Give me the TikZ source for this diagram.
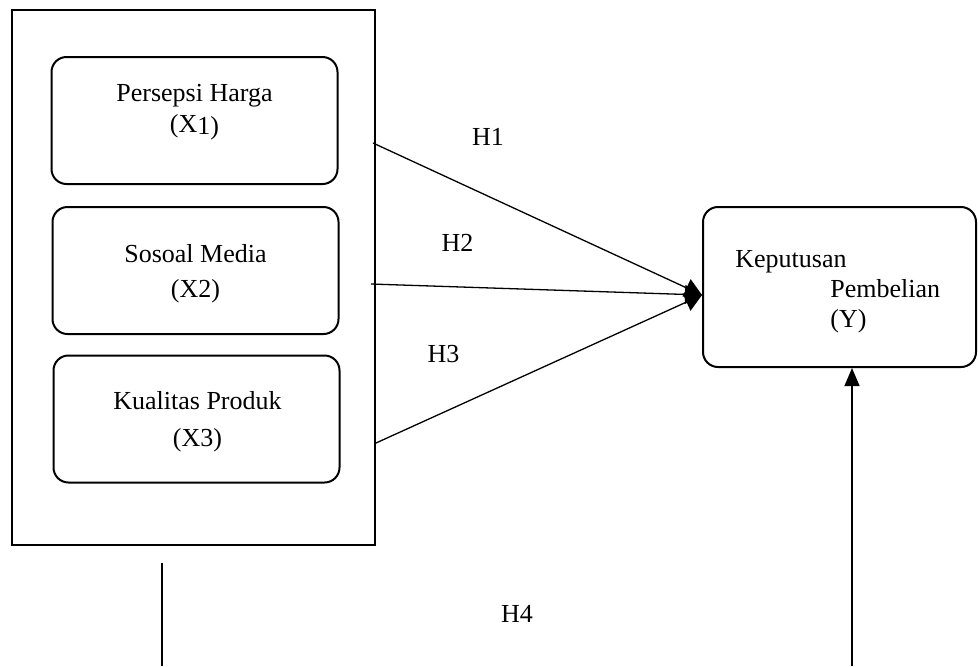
\documentclass[tikz,border=0pt]{standalone}
\usepackage{fontspec}
\setmainfont{Liberation Serif}
\usetikzlibrary{positioning,calc,arrows.meta}

\begin{document}
\begin{tikzpicture}[x=0.5pt,y=-0.5pt,
  varbox/.style={draw,rounded corners=7.5pt,line width=1pt,
                 minimum width=143pt,minimum height=63.5pt,inner sep=0pt},
  vartext/.style={anchor=north,align=center,inner sep=0pt,
                  font=\fontsize{13}{15.5}\selectfont},
  hyp/.style={inner sep=0pt,font=\fontsize{13}{15}\selectfont},
  arr/.style={-{Triangle[length=8.5pt,width=9.5pt]},line width=0.65pt}]
\useasboundingbox (0,0) rectangle (978,666);

% independent variables
\node (frame) [draw,line width=1.3pt,minimum width=181.5pt,
               minimum height=267.5pt,inner sep=0pt] at (193.5,277.5) {};
\node (x1) [varbox] at (194.5,120.5) {};
\node (x2) [varbox] at (195.5,270.5) {};
\node (x3) [varbox] at (196.5,419) {};
\node (x1txt) [vartext] at (194.5,84) {Persepsi Harga\\(X\raisebox{-1pt}{1)}};
\node (x2txt) [vartext] at (195.5,244) {Sosoal Media\\[2pt](X2)};
\node (x3txt) [vartext] at (197.5,391) {Kualitas Produk\\[3pt](X3)};

% dependent variable
\node (ybox) [draw,rounded corners=7.5pt,line width=1pt,minimum width=136.5pt,
              minimum height=80pt,inner sep=0pt] at (839.5,287) {};
\node (ytxt) [anchor=north west,align=left,inner sep=0pt,
              font=\fontsize{13}{15}\selectfont] at (735,250)
  {Keputusan\\\hspace*{47.5pt}Pembelian\\\hspace*{47.5pt}(Y)};

% hypotheses
\node (h1) [hyp] at (488,137) {H1};
\node (h2) [hyp] at (457.5,242.5) {H2};
\node (h3) [hyp] at (443.5,354) {H3};
\node (h4) [hyp] at (517,614) {H4};

\coordinate (s1) at (373,143);
\coordinate (s2) at (371,284);
\coordinate (s3) at (376,443);
\coordinate (tip) at ([yshift=-4pt]ybox.west);
\draw[arr] (s1) -- (tip);
\draw[arr] (s2) -- (tip);
\draw[arr] (s3) -- (tip);

\coordinate (b1) at (162,563);
\coordinate (b2) at (162,666);
\coordinate (b3) at (852,666);
\draw[line width=0.65pt] (b1) -- (b2);
\draw[-{Triangle[length=9pt,width=7.5pt]},line width=0.65pt] (b3) -- (b3 |- ybox.south);
\end{tikzpicture}
\end{document}
